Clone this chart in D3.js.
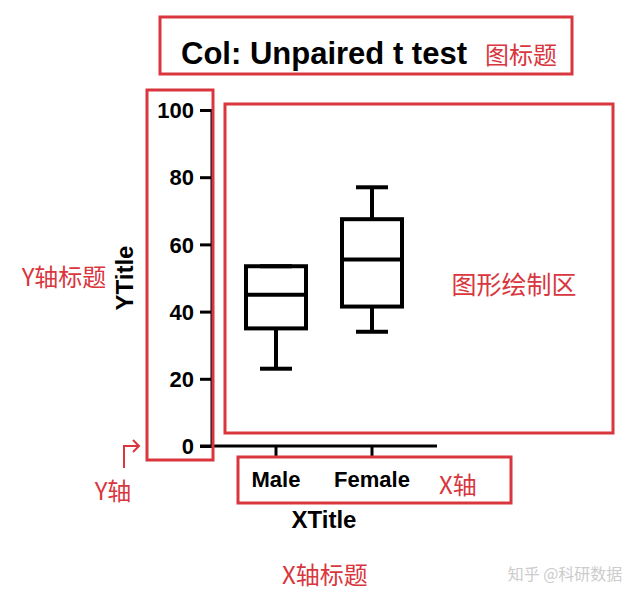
<!DOCTYPE html>
<html><head><meta charset="utf-8">
<script src="https://cdn.jsdelivr.net/npm/d3@7"></script>
<style>body{margin:0;background:#fff}</style>
</head><body>
<script>
// data
const groups = ['Male', 'Female'];
const mins = [23, 34];
const q1s = [35, 41.5];
const medians = [45, 55.5];
const q3s = [53.5, 67.5];
const maxs = [53.5, 77];
const yTicks = [0, 20, 40, 60, 80, 100];

const red = '#d9363e';
const svg = d3.select('body').append('svg').attr('width', 632).attr('height', 597);

const y = d3.scaleLinear().domain([0, 100]).range([446, 110]);
const x = d3.scaleBand().domain(groups).range([217.2, 430.8]).paddingInner(0.375).paddingOuter(0.3);

// axes
const yAxis = svg.append('g').attr('transform', 'translate(212,0)')
    .call(d3.axisLeft(y).tickValues(yTicks).tickSize(12).tickPadding(6));
const xAxis = svg.append('g').attr('transform', 'translate(0,446)')
    .call(d3.axisBottom(x).tickSize(10).tickPadding(15));
xAxis.select('.domain').attr('d', 'M200,0H437');
[yAxis, xAxis].forEach(a => {
    a.selectAll('path,line').attr('stroke', '#000').attr('stroke-width', 3);
    a.selectAll('text').attr('font-family', 'Liberation Sans, Arial, sans-serif')
        .attr('font-weight', 'bold').attr('font-size', 22).attr('fill', '#000');
});
yAxis.selectAll('text').attr('dy', '0.35em');
yAxis.select('.domain').attr('d', 'M0,446V110');

// boxes
const boxes = svg.append('g').selectAll('g').data(groups).join('g')
    .attr('fill', 'none').attr('stroke', '#000').attr('stroke-width', 4);
const cx = d => x(d) + x.bandwidth() / 2;
boxes.append('line').attr('x1', cx).attr('x2', cx)
    .attr('y1', (d, i) => y(mins[i])).attr('y2', (d, i) => y(q1s[i]));
boxes.append('line').attr('x1', cx).attr('x2', cx)
    .attr('y1', (d, i) => y(q3s[i])).attr('y2', (d, i) => y(maxs[i]));
boxes.append('line').attr('x1', d => cx(d) - 16).attr('x2', d => cx(d) + 16)
    .attr('y1', (d, i) => y(mins[i])).attr('y2', (d, i) => y(mins[i]));
boxes.append('line').attr('x1', d => cx(d) - 16).attr('x2', d => cx(d) + 16)
    .attr('y1', (d, i) => y(maxs[i])).attr('y2', (d, i) => y(maxs[i]));
boxes.append('rect').attr('x', d => x(d)).attr('width', x.bandwidth())
    .attr('y', (d, i) => y(q3s[i])).attr('height', (d, i) => y(q1s[i]) - y(q3s[i]));
boxes.append('line').attr('x1', d => x(d)).attr('x2', d => x(d) + x.bandwidth())
    .attr('y1', (d, i) => y(medians[i])).attr('y2', (d, i) => y(medians[i]));

// titles
const bold = {'font-family': 'Liberation Sans, Arial, sans-serif', 'font-weight': 'bold', 'fill': '#000'};
function txt(s, xx, yy, size, attrs, anchor) {
    const t = svg.append('text').attr('x', xx).attr('y', yy).attr('font-size', size)
        .attr('text-anchor', anchor || 'middle').text(s);
    Object.entries(attrs).forEach(([k, v]) => t.attr(k, v));
    return t;
}
txt('Col: Unpaired t test', 324, 64, 31, bold);
txt('XTitle', 324, 528, 24, bold);
txt('YTitle', 0, 0, 24, bold).attr('transform', 'translate(133,278) rotate(-90)');

// annotations
const ann = {'font-family': 'Noto Sans CJK SC, sans-serif', 'fill': red};
const rects = [[160, 17, 412, 57], [147, 90, 66, 370], [225, 104, 388, 329], [238, 457, 273, 46]];
svg.append('g').selectAll('rect').data(rects).join('rect')
    .attr('x', d => d[0]).attr('y', d => d[1]).attr('width', d => d[2]).attr('height', d => d[3])
    .attr('fill', 'none').attr('stroke', red).attr('stroke-width', 3);
txt('图标题', 521, 64, 24, ann);
txt('Y轴标题', 64, 286, 24, ann);
txt('图形绘制区', 514, 294, 25, ann);
txt('X轴', 458, 494, 24, ann);
txt('Y轴', 113, 500, 24, ann);
txt('X轴标题', 325, 584, 24, ann);
svg.append('path').attr('d', 'M124,468V446H138').attr('fill', 'none').attr('stroke', red).attr('stroke-width', 2);
svg.append('path').attr('d', 'M133,440L139,446L133,452').attr('fill', 'none').attr('stroke', red).attr('stroke-width', 2);
txt('知乎 @科研数据', 565, 580, 16, {'font-family': 'Noto Sans CJK SC, sans-serif', 'fill': '#ccc'});
</script>
</body></html>
